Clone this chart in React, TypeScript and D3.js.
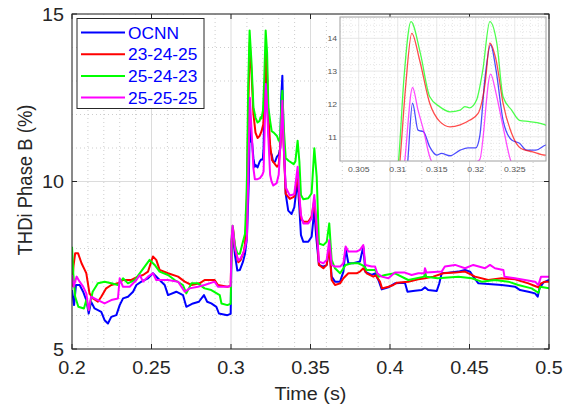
import React from 'react';
import * as d3 from 'd3';

const xTicks = [0.2, 0.25, 0.3, 0.35, 0.4, 0.45, 0.5];
const xTickLabels = ['0.2', '0.25', '0.3', '0.35', '0.4', '0.45', '0.5'];
const yTicks = [5, 10, 15];
const insetXTicks = [0.305, 0.31, 0.315, 0.32, 0.325];
const insetXTickLabels = ['0.305', '0.31', '0.315', '0.32', '0.325'];
const insetYTicks = [11, 12, 13, 14];
const seriesNames = ['OCNN', '23-24-25', '25-24-23', '25-25-25'];
const seriesColors = ['#0000ff', '#ff0000', '#00ff00', '#ff00ff'];

const ocnn = [
  [0.2, 6.76], [0.2013, 6.31], [0.2025, 6.91], [0.2048, 6.91], [0.207, 6.71], [0.209, 6.46], [0.2105, 6.06],
  [0.212, 6.41], [0.2142, 6.21], [0.2184, 6.11], [0.2205, 5.86], [0.2226, 5.76], [0.2247, 5.96], [0.2279, 6.01],
  [0.23, 6.31], [0.2321, 6.51], [0.2352, 6.56], [0.2384, 6.71], [0.2405, 6.91], [0.2436, 7.01], [0.2478, 7.11],
  [0.2509, 7.26], [0.254, 7.11], [0.2583, 6.91], [0.2604, 6.61], [0.2656, 6.71], [0.2698, 6.61], [0.2719, 6.26],
  [0.2761, 6.36], [0.2798, 6.41], [0.283, 6.61], [0.285, 6.41], [0.2876, 6.36], [0.2908, 6.26], [0.2924, 6.06],
  [0.2977, 6.01], [0.2998, 6.05], [0.3004, 8.2], [0.301, 8.5], [0.3025, 7.8], [0.304, 7.34], [0.3056, 7.36],
  [0.3075, 7.6], [0.3088, 7.84], [0.31, 8.3], [0.3112, 10.0], [0.3119, 12.02], [0.3126, 11.2], [0.3133, 11.15],
  [0.3141, 10.69], [0.315, 10.44], [0.3156, 10.49], [0.3167, 10.42], [0.318, 10.59], [0.319, 10.66], [0.32, 10.66],
  [0.3205, 11.0], [0.3212, 12.83], [0.3219, 13.8], [0.3226, 13.03], [0.3235, 11.5], [0.3246, 10.9], [0.3256, 10.8],
  [0.3265, 10.59], [0.3277, 10.59], [0.3289, 10.74], [0.33, 10.8], [0.331, 11.0], [0.3316, 12.5], [0.3323, 13.16],
  [0.333, 11.5], [0.3344, 9.63], [0.336, 9.13], [0.3381, 9.03], [0.3398, 9.23], [0.341, 9.7], [0.3419, 10.0],
  [0.343, 9.2], [0.344, 8.4], [0.3455, 8.2], [0.3486, 8.2], [0.3507, 8.35], [0.3524, 9.15], [0.3535, 8.4],
  [0.3553, 7.51], [0.3581, 7.46], [0.3602, 7.51], [0.3618, 8.06], [0.3633, 7.16], [0.3654, 7.01], [0.3686, 7.01],
  [0.3707, 7.31], [0.3721, 8.0], [0.3738, 7.56], [0.3769, 7.56], [0.3811, 7.61], [0.3832, 8.06], [0.3845, 7.3],
  [0.3885, 7.21], [0.3906, 7.26], [0.3927, 7.06], [0.3948, 6.78], [0.399, 6.84], [0.4031, 6.96], [0.4094, 6.98],
  [0.411, 6.71], [0.4157, 6.74], [0.4199, 6.76], [0.422, 6.84], [0.424, 6.76], [0.4294, 6.73], [0.431, 6.96],
  [0.4325, 7.26], [0.4367, 7.28], [0.443, 7.31], [0.4472, 7.36], [0.4503, 7.31], [0.4524, 7.16], [0.4556, 6.96],
  [0.4618, 6.94], [0.4702, 6.91], [0.4786, 6.86], [0.4818, 6.76], [0.487, 6.71], [0.4912, 6.66], [0.4929, 6.56],
  [0.494, 6.81], [0.4964, 6.98], [0.5, 7.06],
];

const s232425 = [
  [0.2, 6.86], [0.201, 7.5], [0.202, 7.86], [0.2038, 7.86], [0.206, 7.56], [0.208, 7.36], [0.209, 7.26],
  [0.211, 6.66], [0.2132, 6.51], [0.2163, 6.41], [0.2184, 6.56], [0.2215, 6.81], [0.2247, 6.91], [0.2289, 6.96],
  [0.2321, 7.06], [0.2373, 7.06], [0.2415, 7.16], [0.2447, 7.21], [0.2478, 7.31], [0.2509, 7.76], [0.253, 7.66],
  [0.2551, 7.36], [0.2604, 7.26], [0.2667, 7.16], [0.2709, 7.01], [0.2751, 6.91], [0.2803, 6.96], [0.2834, 7.06],
  [0.2897, 7.06], [0.2918, 6.91], [0.2977, 6.86], [0.2998, 6.88], [0.3004, 8.2], [0.3012, 8.63], [0.3025, 8.0],
  [0.3046, 7.59], [0.306, 7.65], [0.308, 7.9], [0.3088, 8.13], [0.3098, 9.0], [0.3103, 10.3], [0.311, 12.5],
  [0.3118, 14.15], [0.3128, 13.34], [0.3141, 12.02], [0.3154, 11.46], [0.3167, 11.3], [0.318, 11.36], [0.3192, 11.5],
  [0.3203, 11.71], [0.3212, 12.63], [0.3218, 13.85], [0.3226, 13.34], [0.3235, 12.02], [0.3246, 11.1], [0.3258, 10.64],
  [0.3273, 10.54], [0.3289, 10.44], [0.33, 10.5], [0.3312, 11.2], [0.3323, 12.3], [0.3332, 11.0], [0.3344, 9.63],
  [0.337, 9.48], [0.3398, 9.55], [0.3419, 10.2], [0.343, 9.5], [0.344, 8.9], [0.3455, 8.8], [0.3486, 8.8],
  [0.3507, 8.95], [0.3524, 9.45], [0.3539, 8.55], [0.3553, 7.51], [0.3581, 7.41], [0.3602, 7.51], [0.3618, 8.06],
  [0.3633, 7.06], [0.3654, 6.91], [0.3686, 6.96], [0.3707, 7.11], [0.3738, 7.26], [0.379, 7.26], [0.3811, 7.31],
  [0.3832, 7.41], [0.3853, 7.26], [0.3895, 7.16], [0.391, 7.2], [0.3937, 7.01], [0.395, 6.81], [0.399, 6.86],
  [0.4021, 6.91], [0.4045, 6.98], [0.4115, 7.01], [0.4178, 7.08], [0.422, 7.11], [0.4272, 7.16], [0.4335, 7.26],
  [0.4409, 7.28], [0.4472, 7.31], [0.4535, 7.16], [0.4618, 7.06], [0.4702, 7.11], [0.4786, 7.08], [0.487, 6.96],
  [0.4912, 6.88], [0.4933, 6.84], [0.495, 6.96], [0.4975, 7.01], [0.5, 7.01],
];

const s252423 = [
  [0.2, 8.05], [0.2008, 7.26], [0.202, 6.56], [0.204, 6.26], [0.2075, 6.21], [0.209, 6.46], [0.2105, 6.16],
  [0.213, 6.71], [0.2163, 6.96], [0.2205, 7.01], [0.2247, 6.96], [0.2289, 6.91], [0.2321, 7.11], [0.2352, 6.96],
  [0.2394, 7.06], [0.2426, 7.26], [0.2457, 7.46], [0.2488, 7.66], [0.252, 7.51], [0.2551, 7.31], [0.2604, 7.21],
  [0.2646, 7.06], [0.2698, 6.91], [0.2719, 6.66], [0.2751, 6.96], [0.2792, 6.96], [0.2834, 6.81], [0.2876, 6.76],
  [0.2929, 6.61], [0.294, 6.36], [0.2977, 6.31], [0.2998, 6.35], [0.3004, 8.3], [0.301, 8.68], [0.3025, 8.1],
  [0.304, 7.84], [0.3056, 7.84], [0.3075, 8.2], [0.3088, 8.43], [0.3097, 9.5], [0.3101, 10.26], [0.3108, 12.8],
  [0.3117, 14.51], [0.3129, 13.54], [0.3141, 12.22], [0.3154, 11.91], [0.3167, 11.76], [0.318, 11.81], [0.3186, 11.92],
  [0.3192, 11.88], [0.3201, 12.12], [0.3209, 13.03], [0.3218, 14.51], [0.3227, 13.85], [0.3235, 12.22], [0.3246, 11.81],
  [0.3256, 11.5], [0.3269, 11.46], [0.3289, 11.36], [0.33, 11.22], [0.3308, 11.22], [0.3316, 12.2], [0.3323, 12.71],
  [0.3332, 11.6], [0.3344, 10.7], [0.3362, 10.62], [0.3394, 10.52], [0.3405, 10.6], [0.3419, 11.22], [0.343, 10.6],
  [0.344, 9.6], [0.3455, 9.47], [0.3486, 9.5], [0.3507, 9.65], [0.3524, 10.99], [0.3539, 10.14], [0.3553, 8.15],
  [0.3581, 8.1], [0.3602, 8.2], [0.3618, 8.75], [0.3633, 7.66], [0.3654, 7.41], [0.3686, 7.26], [0.37, 7.36],
  [0.3721, 7.51], [0.3759, 7.56], [0.38, 7.56], [0.3822, 7.51], [0.384, 7.46], [0.3853, 7.36], [0.3906, 7.36],
  [0.393, 7.16], [0.3969, 7.21], [0.4031, 7.26], [0.4115, 7.06], [0.4215, 7.16], [0.422, 7.31], [0.4228, 7.16],
  [0.43, 7.11], [0.443, 7.16], [0.4514, 7.11], [0.4577, 7.01], [0.466, 7.06], [0.4744, 7.01], [0.4807, 6.91],
  [0.4891, 6.81], [0.4933, 6.68], [0.4945, 6.86], [0.5, 6.81],
];

const s252525 = [
  [0.2, 7.21], [0.201, 6.86], [0.2029, 7.16], [0.2048, 7.01], [0.207, 6.86], [0.209, 6.66], [0.2105, 6.16],
  [0.212, 6.56], [0.2163, 6.46], [0.2205, 6.36], [0.2247, 6.46], [0.2289, 6.51], [0.23, 7.11], [0.232, 6.86],
  [0.2363, 6.86], [0.2405, 7.06], [0.2426, 7.21], [0.2447, 7.01], [0.2478, 7.16], [0.2509, 7.26], [0.253, 7.06],
  [0.2561, 7.06], [0.2604, 7.06], [0.2667, 7.01], [0.2709, 6.71], [0.274, 6.81], [0.2792, 6.86], [0.2834, 6.91],
  [0.2897, 7.01], [0.2918, 6.86], [0.2977, 6.86], [0.2998, 6.88], [0.3004, 8.3], [0.301, 8.68], [0.3025, 8.0],
  [0.3046, 7.64], [0.306, 7.7], [0.308, 7.9], [0.3088, 8.03], [0.31, 8.3], [0.3109, 10.26], [0.3119, 12.5],
  [0.3126, 11.81], [0.3133, 11.2], [0.3141, 10.39], [0.315, 10.07], [0.3167, 10.07], [0.3182, 10.1], [0.3197, 10.2],
  [0.3205, 10.3], [0.3219, 12.91], [0.3226, 12.32], [0.3235, 11.3], [0.3246, 10.2], [0.3255, 10.0], [0.3266, 9.88],
  [0.3287, 9.95], [0.33, 10.2], [0.3312, 11.2], [0.3323, 12.41], [0.3332, 11.0], [0.3344, 9.83], [0.337, 9.58],
  [0.3398, 9.62], [0.3419, 10.44], [0.343, 9.6], [0.344, 9.0], [0.3455, 8.75], [0.3486, 8.75], [0.3507, 8.9],
  [0.3524, 9.6], [0.3539, 8.65], [0.3553, 7.61], [0.3581, 7.56], [0.3602, 7.66], [0.3618, 8.25], [0.3633, 7.51],
  [0.3654, 7.46], [0.3686, 7.46], [0.3707, 7.56], [0.3721, 8.06], [0.3738, 7.91], [0.379, 7.91], [0.3811, 7.96],
  [0.3832, 8.1], [0.3845, 7.51], [0.3885, 7.46], [0.3906, 7.46], [0.392, 7.26], [0.3948, 7.16], [0.399, 7.11],
  [0.4031, 7.28], [0.4094, 7.28], [0.4136, 7.21], [0.4178, 7.26], [0.4215, 7.26], [0.422, 7.41], [0.423, 7.28],
  [0.4325, 7.31], [0.4345, 7.46], [0.4409, 7.51], [0.4472, 7.41], [0.4524, 7.51], [0.4598, 7.41], [0.4629, 7.51],
  [0.466, 7.41], [0.4713, 7.36], [0.472, 7.16], [0.4786, 7.11], [0.4849, 7.06], [0.4912, 7.01], [0.4933, 6.91],
  [0.495, 7.16], [0.5, 7.16],
];

const allSeries = [ocnn, s232425, s252423, s252525];

const FONT = '"Liberation Sans", Arial, Helvetica, sans-serif';

function isMajor(v: number, step: number) {
  const r = v / step;
  return Math.abs(r - Math.round(r)) < 1e-6;
}

export default function App() {
  const W = 576;
  const H = 405;
  const L = 72, R = 549, T = 14, B = 349;
  const x = d3.scaleLinear().domain([0.2, 0.5]).range([L, R]);
  const y = d3.scaleLinear().domain([5, 15]).range([B, T]);

  const IL = 340, IR = 546, IT = 17, IB = 161;
  const ix = d3.scaleLinear().domain([0.3026, 0.329]).range([IL, IR]);
  const iy = d3.scaleLinear().domain([10.26, 14.65]).range([IB, IT]);

  const line = d3.line<number[]>().x((d) => x(d[0])).y((d) => y(d[1]));
  const iline = d3.line<number[]>().x((d) => ix(d[0])).y((d) => iy(d[1])).curve(d3.curveMonotoneX);

  const minorX = d3.range(0, 31).map((i) => 0.2 + i * 0.01).filter((v) => !isMajor(v - 0.2, 0.05));
  const minorY = d3.range(5, 16).filter((v) => !isMajor(v, 5));

  const iMinorX = d3.range(0, 30).map((i) => 0.303 + i * 0.001).filter((v) => v < 0.329 && !isMajor(v - 0.3, 0.005));
  const iMinorY = d3.range(0, 30).map((i) => 10.4 + i * 0.2).filter((v) => v < 14.65 && !isMajor(v, 1));

  const tick = 5;
  const axisColor = '#262626';

  const legendX = 77, legendY = 18.5, legendW = 127, legendH = 90;
  const rowY = (i: number) => 32.5 + i * 21.7;

  return (
    <svg width={W} height={H} style={{ position: 'absolute', left: 0, top: 0, background: '#fff' }} fontFamily={FONT}>
      <defs>
        <clipPath id="mainClip">
          <rect x={L} y={T} width={R - L} height={B - T} />
        </clipPath>
        <clipPath id="insetClip">
          <rect x={IL} y={IT} width={IR - IL} height={IB - IT} />
        </clipPath>
      </defs>
      <rect x={0} y={0} width={W} height={H} fill="#fff" />
      <rect x={L} y={T} width={R - L} height={B - T} fill="#fff" />
      {minorX.map((v, i) => (
        <line key={'mx' + i} x1={x(v)} x2={x(v)} y1={T} y2={B} stroke="#b8b8b8" strokeWidth={0.7} strokeDasharray="1 3" />
      ))}
      {minorY.map((v, i) => (
        <line key={'my' + i} x1={L} x2={R} y1={y(v)} y2={y(v)} stroke="#b8b8b8" strokeWidth={0.7} strokeDasharray="1 3" />
      ))}
      {xTicks.map((v, i) => (
        <line key={'gx' + i} x1={x(v)} x2={x(v)} y1={T} y2={B} stroke="#dcdcdc" strokeWidth={1} />
      ))}
      {yTicks.map((v, i) => (
        <line key={'gy' + i} x1={L} x2={R} y1={y(v)} y2={y(v)} stroke="#dcdcdc" strokeWidth={1} />
      ))}
      <g clipPath="url(#mainClip)">
        {allSeries.map((s, i) => (
          <path key={'s' + i} d={line(s) || ''} fill="none" stroke={seriesColors[i]} strokeWidth={2} strokeLinejoin="round" />
        ))}
      </g>
      <rect x={L} y={T} width={R - L} height={B - T} fill="none" stroke={axisColor} strokeWidth={1} />
      {xTicks.map((v, i) => (
        <g key={'tx' + i}>
          <line x1={x(v)} x2={x(v)} y1={B} y2={B - tick} stroke={axisColor} />
          <line x1={x(v)} x2={x(v)} y1={T} y2={T + tick} stroke={axisColor} />
          <text transform={`translate(${x(v)},${374}) scale(1.07,1)`} textAnchor="middle" fontSize={18.5} fill="#262626">
            {xTickLabels[i]}
          </text>
        </g>
      ))}
      {yTicks.map((v, i) => (
        <g key={'ty' + i}>
          <line x1={L} x2={L + tick} y1={y(v)} y2={y(v)} stroke={axisColor} />
          <line x1={R} x2={R - tick} y1={y(v)} y2={y(v)} stroke={axisColor} />
          <text transform={`translate(${64},${y(v) + 6.5}) scale(1.07,1)`} textAnchor="end" fontSize={18.5} fill="#262626">
            {String(v)}
          </text>
        </g>
      ))}
      <text transform={`translate(${(L + R) / 2},${400}) scale(1.07,1)`} textAnchor="middle" fontSize={18.5} fill="#262626">
        Time (s)
      </text>
      <text transform={`translate(${32},${180}) rotate(-90) scale(1,1.07)`} textAnchor="middle" fontSize={18.5} fill="#262626">
        THDi Phase B (%)
      </text>
      <rect x={legendX} y={legendY} width={legendW} height={legendH} fill="#fff" stroke={axisColor} strokeWidth={1} />
      {seriesNames.map((n, i) => (
        <g key={'lg' + i}>
          <line x1={81} x2={125} y1={rowY(i)} y2={rowY(i)} stroke={seriesColors[i]} strokeWidth={2} />
          <text transform={`translate(${128},${rowY(i) + 6}) scale(1.05,1)`} fontSize={16.5} fill="#0000ff">
            {n}
          </text>
        </g>
      ))}
      <rect x={IL} y={IT} width={IR - IL} height={IB - IT} fill="#fff" />
      {iMinorX.map((v, i) => (
        <line key={'imx' + i} x1={ix(v)} x2={ix(v)} y1={IT} y2={IB} stroke="#d6d6d6" strokeWidth={0.6} strokeDasharray="1 2" />
      ))}
      {iMinorY.map((v, i) => (
        <line key={'imy' + i} x1={IL} x2={IR} y1={iy(v)} y2={iy(v)} stroke="#d6d6d6" strokeWidth={0.6} strokeDasharray="1 2" />
      ))}
      {insetXTicks.map((v, i) => (
        <line key={'igx' + i} x1={ix(v)} x2={ix(v)} y1={IT} y2={IB} stroke="#e2e2e2" strokeWidth={0.8} />
      ))}
      {insetYTicks.map((v, i) => (
        <line key={'igy' + i} x1={IL} x2={IR} y1={iy(v)} y2={iy(v)} stroke="#e2e2e2" strokeWidth={0.8} />
      ))}
      <g clipPath="url(#insetClip)">
        {allSeries.map((s, i) => (
          <path key={'is' + i} d={iline(s) || ''} fill="none" stroke={seriesColors[i]} strokeOpacity={0.7} strokeWidth={1.3} strokeLinejoin="round" />
        ))}
      </g>
      <rect x={IL} y={IT} width={IR - IL} height={IB - IT} fill="none" stroke="#a0a0a0" strokeWidth={1} />
      {insetXTicks.map((v, i) => (
        <text key={'itx' + i} transform={`translate(${ix(v)},${172}) scale(1.08,1)`} textAnchor="middle" fontSize={8} fill="#555">
          {insetXTickLabels[i]}
        </text>
      ))}
      {insetYTicks.map((v, i) => (
        <text key={'ity' + i} transform={`translate(${337},${iy(v) + 3}) scale(1.08,1)`} textAnchor="end" fontSize={8} fill="#555">
          {String(v)}
        </text>
      ))}
    </svg>
  );
}
